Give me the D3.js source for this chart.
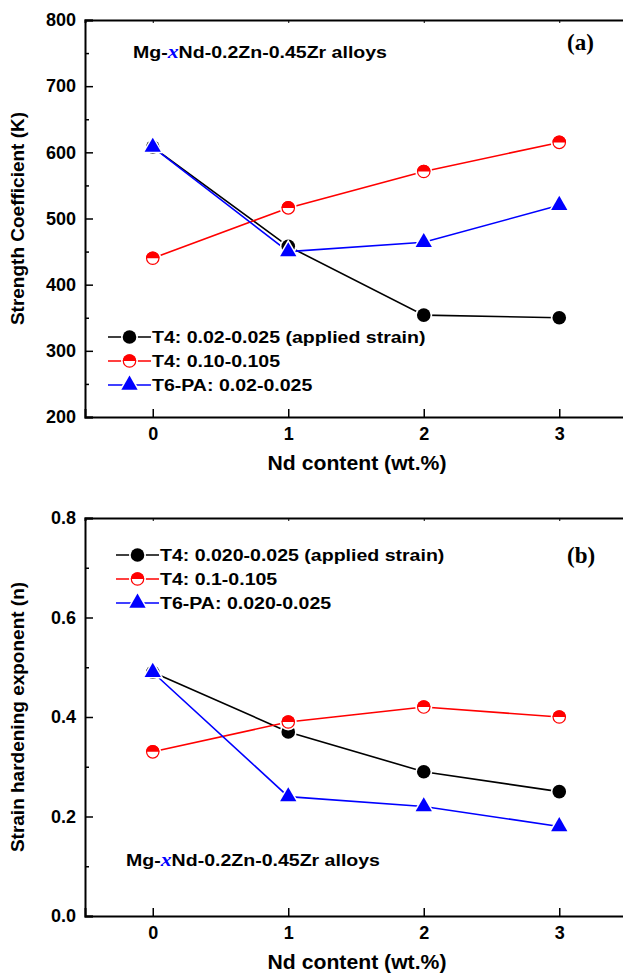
<!DOCTYPE html>
<html>
<head>
<meta charset="utf-8">
<script src="https://cdn.jsdelivr.net/npm/d3@7"></script>
<style>
    body { margin: 0; background: #fff; }
    svg { display: block; }
    text { font-family: "Liberation Sans", Arial, sans-serif; font-weight: bold; fill: #000; }
</style>
</head>
<body>
<div class="chart"></div>
<script>
// Nd content (wt.%)
const ndContent = [0, 1, 2, 3];
const xTicks = [0, 1, 2, 3];

// (a) strength coefficient K
const kT4Low = [608, 458, 354, 350];
const kT4High = [440, 516, 571, 615];
const kT6Low = [608, 450, 464, 520];
const kTicks = [200, 300, 400, 500, 600, 700, 800];
const kLegend = ["T4: 0.02-0.025 (applied strain)", "T4: 0.10-0.105", "T6-PA: 0.02-0.025"];

// (b) strain hardening exponent n
const nT4Low = [0.49, 0.37, 0.29, 0.25];
const nT4High = [0.33, 0.39, 0.42, 0.40];
const nT6Low = [0.49, 0.24, 0.22, 0.18];
const nTicks = [0.0, 0.2, 0.4, 0.6, 0.8];
const nLegend = ["T4: 0.020-0.025 (applied strain)", "T4: 0.1-0.105", "T6-PA: 0.020-0.025"];

const seriesColors = ["#000000", "#ff0000", "#0000ff"];
const seriesMarkers = ["circle", "half", "triangle"];
const serif = "'Liberation Serif', 'Times New Roman', serif";

let svg = d3.select(".chart").append("svg")
    .attr("width", 623)
    .attr("height", 975);

// the figure's lettering is a little wider than Arial, so stretch it sideways
function wideText(g, x, y, size, sx) {
    return g.append("text")
        .attr("transform", "translate(" + x + "," + y + ") scale(" + sx + ",1)")
        .attr("font-size", size);
}

function drawMarker(g, type, color, cx, cy) {
    let m = g.append("g").attr("transform", "translate(" + cx + "," + cy + ")");
    if (type === "circle") {
        m.append("circle").attr("r", 8.5).attr("fill", "#fff");
        m.append("circle").attr("r", 6.8).attr("fill", color);
    } else if (type === "half") {
        m.append("circle").attr("r", 8.5).attr("fill", "#fff");
        m.append("circle").attr("r", 6.2).attr("fill", "#fff")
            .attr("stroke", color).attr("stroke-width", 1.2);
        m.append("path").attr("d", "M-6.8,0A6.8,6.8 0 0 1 6.8,0Z").attr("fill", color);
    } else {
        m.append("path").attr("d", d3.symbol().type(d3.symbolTriangle).size(200)())
            .attr("fill", "#fff");
        m.append("path").attr("d", d3.symbol().type(d3.symbolTriangle).size(115)())
            .attr("fill", color);
    }
}

function drawPanel(opt) {
    let left = 85, right = 627;
    let x = d3.scaleLinear().domain([-0.5, 3.5]).range([left, right]);
    let y = d3.scaleLinear().domain(opt.yDomain).range([opt.bottom, opt.top]);
    let g = svg.append("g");

    // series lines first, then markers on top
    opt.series.forEach(function (vals, i) {
        let pts = ndContent.map(function (d, j) { return [d, vals[j]]; });
        g.append("path")
            .datum(pts)
            .attr("fill", "none")
            .attr("stroke", seriesColors[i])
            .attr("stroke-width", 1.6)
            .attr("d", d3.line().x(function (d) { return x(d[0]); }).y(function (d) { return y(d[1]); }));
    });
    opt.series.forEach(function (vals, i) {
        vals.forEach(function (v, j) {
            drawMarker(g, seriesMarkers[i], seriesColors[i], x(ndContent[j]), y(v));
        });
    });

    // axes
    g.append("g")
        .attr("transform", "translate(0," + opt.bottom + ")")
        .call(d3.axisBottom(x).tickValues(xTicks).tickSize(-8).tickPadding(10).tickFormat(d3.format("d")))
        .call(function (a) {
            a.select(".domain").attr("stroke-width", 2);
            a.selectAll(".tick line").attr("stroke-width", 1.5);
            a.selectAll(".tick text").attr("font-size", 18);
        });
    g.append("g")
        .attr("transform", "translate(0," + opt.top + ")")
        .call(d3.axisTop(x).tickValues(xTicks).tickSize(-3).tickFormat(""))
        .call(function (a) {
            a.select(".domain").attr("stroke-width", 2);
        });

    g.append("g")
        .attr("transform", "translate(" + left + ",0)")
        .call(d3.axisLeft(y).tickValues(opt.minorTicks).tickSize(-4).tickFormat(""))
        .call(function (a) { a.select(".domain").remove(); a.selectAll(".tick line").attr("stroke-width", 1.5); });
    g.append("g")
        .attr("transform", "translate(" + left + ",0)")
        .call(d3.axisLeft(y).tickValues(opt.yTicks).tickSize(-8).tickPadding(9).tickFormat(opt.tickFormat))
        .call(function (a) {
            a.select(".domain").attr("stroke-width", 2);
            a.selectAll(".tick line").attr("stroke-width", 1.5);
            a.selectAll(".tick text").attr("font-size", 18);
        });

    // axis titles
    wideText(g, 357, opt.bottom + 53, 20, 1.06)
        .attr("text-anchor", "middle")
        .text("Nd content (wt.%)");
    g.append("text")
        .attr("transform", "translate(24," + (opt.top + opt.bottom) / 2 + ") rotate(-90)")
        .attr("text-anchor", "middle")
        .attr("font-size", 19)
        .text(opt.yTitle);

    // alloy label
    let lab = wideText(g, opt.alloyX, opt.alloyY, 17, 1.15);
    lab.append("tspan").text("Mg-");
    lab.append("tspan")
        .style("font-family", serif)
        .attr("font-style", "italic")
        .attr("font-size", 19)
        .style("fill", "#0000ff")
        .text("x");
    lab.append("tspan").text("Nd-0.2Zn-0.45Zr alloys");

    // panel letter
    g.append("text")
        .attr("x", 567)
        .attr("y", opt.letterY)
        .style("font-family", serif)
        .attr("font-size", 23)
        .text(opt.letter);

    // legend
    opt.legend.forEach(function (name, i) {
        let ly = opt.legendY + i * 24;
        g.append("line")
            .attr("x1", opt.legendX).attr("x2", opt.legendX + 43)
            .attr("y1", ly).attr("y2", ly)
            .attr("stroke", seriesColors[i]).attr("stroke-width", 1.5);
        drawMarker(g, seriesMarkers[i], seriesColors[i], opt.legendX + 21.5, ly);
        wideText(g, opt.legendX + 44, ly + 6, 17, 1.15).text(name);
    });
}

drawPanel({
    top: 20, bottom: 417,
    yDomain: [200, 800],
    yTicks: kTicks,
    minorTicks: [250, 350, 450, 550, 650, 750],
    tickFormat: d3.format("d"),
    yTitle: "Strength Coefficient (K)",
    series: [kT4Low, kT4High, kT6Low],
    legend: kLegend,
    legendX: 108, legendY: 337,
    alloyX: 133, alloyY: 58,
    letter: "(a)", letterY: 50
});

drawPanel({
    top: 518, bottom: 916,
    yDomain: [0, 0.8],
    yTicks: nTicks,
    minorTicks: [0.1, 0.3, 0.5, 0.7],
    tickFormat: d3.format(".1f"),
    yTitle: "Strain hardening exponent (n)",
    series: [nT4Low, nT4High, nT6Low],
    legend: nLegend,
    legendX: 116, legendY: 555,
    alloyX: 126, alloyY: 866,
    letter: "(b)", letterY: 563
});
</script>
</body>
</html>
